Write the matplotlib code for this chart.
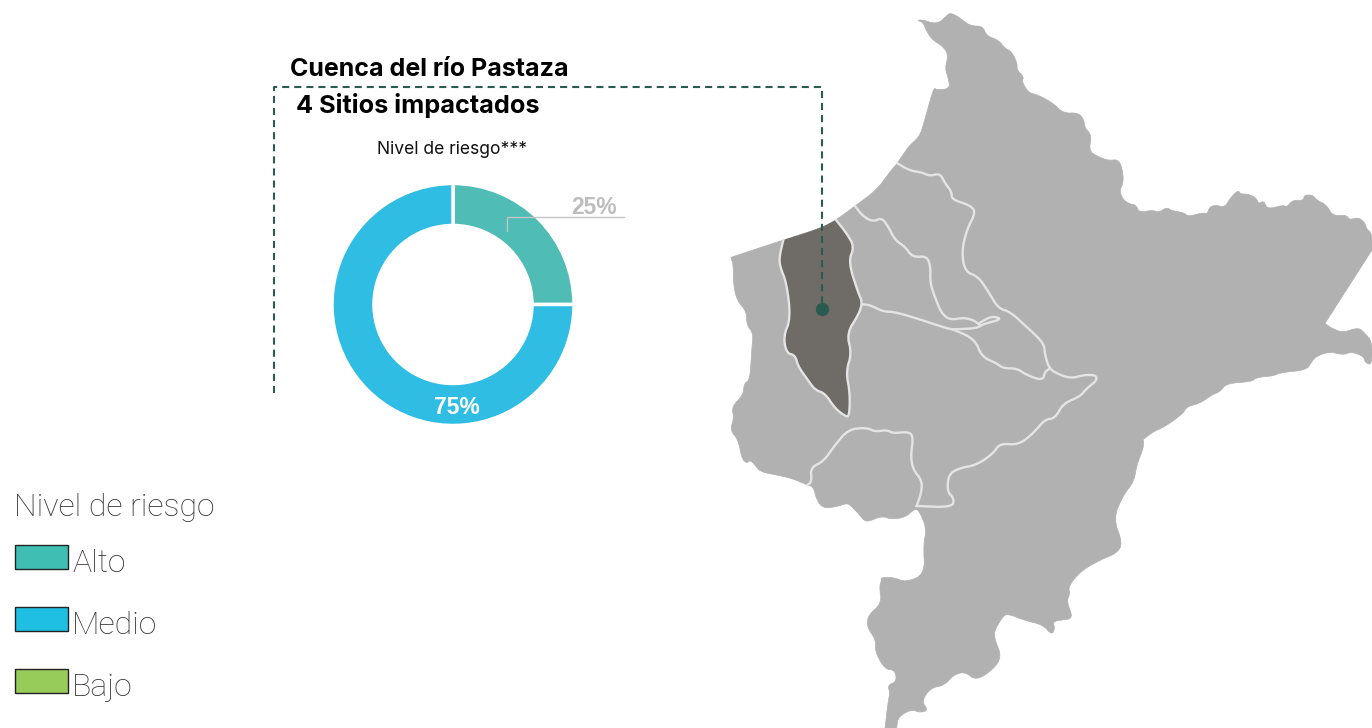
import matplotlib
matplotlib.use("Agg")
import matplotlib.pyplot as plt
from matplotlib.patches import Polygon, Rectangle
import numpy as np

# --- data -------------------------------------------------------------
risk_labels = ["Alto", "Medio"]
risk_values = [25, 75]
risk_colors = ["#4FBCB5", "#30BDE3"]
legend_labels = ["Alto", "Medio", "Bajo"]
legend_colors = ["#3FBFB3", "#1FBFE3", "#97CB5A"]
title_basin = "Cuenca del río Pastaza"
title_sites = "4 Sitios impactados"
title_risk = "Nivel de riesgo***"
legend_title = "Nivel de riesgo"

# --- map outlines, each measured on a 3x crop of the picture -----------
coast_north = [(0,515),(22,490),(40,462),(60,435),(88,410),(100,375),(115,320),(132,262),(140,270),(180,266),(175,235),
 (165,205),(175,165),(160,140),(125,118),(108,90),(100,68),(80,60),(100,60),(130,70),(150,66),(165,52),(180,38),
 (205,50),(240,78),(278,78),(290,108),(325,120),(345,145),(365,155),(382,190),(380,208),(402,232),(395,243),
 (415,278),(445,285),(490,310),(520,340),(565,338),(582,360),(585,385),(605,405),(597,452),(620,468),(655,482),
 (685,478),(698,510),(700,550),(688,572),(700,600),(720,612)]
coast_east = [(78,105),(88,128),(128,120),(145,128),(170,112),(185,122),(222,128),(235,140),(278,128),(292,132),
 (298,112),(315,105),(345,112),(360,85),(385,60),(390,72),(415,72),(440,85),(445,102),(462,92),(472,118),(520,105),
 (530,112),(548,90),(580,92),(583,75),(608,75),(620,90),(650,105),(668,138),(710,135),(718,150),(745,142),(765,158),
 (770,178),(786,190),(786,240),(786,240),(645,460),(645,460),(665,475),(700,488),(745,472),(765,490),(786,515),(786,585),(765,578),
 (762,560),(725,545),(700,555),(660,545),(620,558),(605,575),(590,600),(510,608),(490,618),(440,622),(425,635),
 (350,640),(330,665),(305,675),(270,700),(230,710),(220,730),(165,770),(130,785),(100,808)]
coast_south = [(879,27),(882,50),(860,105),(852,155),(820,195),(790,265),(818,340),(800,370),(750,390),(690,425),
 (655,470),(660,490),(650,515),(670,565),(635,570),(608,575),(615,595),(605,615),(580,585),(520,570),(470,550),
 (455,565),(432,605),(435,630),(455,680),(430,718),(378,752),(345,725),(310,735),(285,765),(240,775),(215,815),
 (235,840),(210,848),(185,838),(145,860),(140,892),(140,900),(105,900),(105,894),(115,810),(120,790),(113,765),(140,755),(135,720),
 (105,718),(75,665),(78,630),(50,590),(55,555),(95,520),(88,470),(95,450),(92,443),(130,442),(168,457),(225,432),
 (220,345),(230,295),(205,237),(190,240),(165,262),(125,268),(95,258),(55,275),(40,270),(25,250),(0,225)]
coast_west = [(380,1000),(350,1010),(310,1015),(290,990),(280,950),(262,945),(215,925),(170,915),(120,905),(105,885),
 (90,870),(80,880),(65,865),(55,810),(30,780),(42,745),(35,710),(70,675),(72,640),(90,630),(95,540),(100,490),
 (80,465),(80,425),(50,390),(40,340),(40,285),(33,262),(33,262),(190,210),(300,175),(348,150),(405,108),(470,60)]
basin_fill = [(190,210),(300,175),(348,150),(348,150),(380,190),(403,230),(385,275),(415,370),(427,395),(418,430),(380,490),
 (395,550),(378,605),(390,670),(388,740),(388,740),(375,738),(345,715),(315,670),(285,660),(260,625),(235,590),
 (225,555),(200,550),(190,500),(212,445),(200,340),(180,290),(178,260),(190,210),(190,210)]
river_a = [(405,108),(430,140),(460,155),(485,143),(505,170),(525,210),(555,230),(578,262),(620,258),(632,290),
 (630,340),(650,395),(665,430),(690,450),(730,443),(760,450),(780,465)]
river_b = [(532,-20),(570,2),(605,7),(630,18),(660,10),(675,40),(695,65),(695,88),(748,105),(768,125),(740,180),
 (725,245),(735,305),(775,320),(805,365),(835,415),(870,425),(925,475),(972,520),(975,555),(988,597),(1020,615),
 (1055,625),(1090,615),(1128,615),(1130,632),(1100,655),(1080,680),(1030,700),(1005,745),(975,748),(940,790),
 (895,825),(840,820),(820,850),(770,885),(715,895),(685,915),(682,965),(702,985),(697,1012),(590,1008)]
river_c = [(427,403),(450,405),(490,425),(520,425),(590,445),(680,475),(700,478),(765,508),(785,560),(830,580),
 (850,595),(890,595),(920,615),(968,632),(975,605),(988,597)]
river_d = [(700,478),(770,475),(790,462),(848,447),(815,438),(780,458)]
river_e = [(262,945),(275,935),(272,892),(310,875),(345,825),(385,778),(440,773),(465,785),(500,780),(520,790),
 (565,785),(580,800),(572,860),(580,900),(605,930),(605,965),(590,1008)]
# the white edge of the basin leaves the straight coast unlined
basin_edge = [(348,150),(380,190),(403,230),(385,275),(415,370),(427,395),(418,430),(380,490),
 (395,550),(378,605),(390,670),(388,740),(375,738),(345,715),(315,670),(285,660),(260,625),(235,590),
 (225,555),(200,550),(190,500),(212,445),(200,340),(180,290),(178,260),(190,210)]

W, H = 1372, 728
def crop(pts, x0=720, y0=170):
    a = np.array(pts, float)
    return a / 3 + [x0, y0]

def rounded(p, closed=False, n=2):
    """Corner-cut the traced outline so that it reads as a soft curve."""
    for _ in range(n):
        q = np.roll(p, -1, axis=0) if closed else p[1:]
        s = p if closed else p[:-1]
        mid = np.empty((2 * len(s), 2))
        mid[0::2] = 0.75 * s + 0.25 * q
        mid[1::2] = 0.25 * s + 0.75 * q
        p = mid if closed else np.vstack([p[0], mid, p[-1]])
    return p

country = rounded(np.vstack([crop(coast_north, 890, 0), crop(coast_east, 1110, 170),
                             crop(coast_south, 850, 430), crop(coast_west)]), closed=True)

fig = plt.figure(figsize=(W/100, H/100), dpi=100, facecolor="white")
ax = fig.add_axes([0, 0, 1, 1])
ax.set_xlim(0, W); ax.set_ylim(H, 0); ax.axis("off")

LINE = "#E4E4E4"; GREEN = "#2A5A50"
ax.add_patch(Polygon(country, closed=True, fc="#B1B1B1", ec="#B1B1B1", lw=0.5, joinstyle="round", zorder=1))
for r in (river_a, river_b, river_c, river_d, river_e):
    p = rounded(crop(r))
    ax.plot(p[:,0], p[:,1], color=LINE, lw=1.7, zorder=2, solid_joinstyle="round")
ax.add_patch(Polygon(rounded(crop(basin_fill), closed=True), closed=True, fc="#6F6B67", ec="none", zorder=3))
p = rounded(crop(basin_edge))
ax.plot(p[:,0], p[:,1], color=LINE, lw=1.7, zorder=3.1, solid_joinstyle="round")

ax.plot([274, 274, 822, 822], [393, 87, 87, 305], color=GREEN, lw=1.5,
        dashes=(3.4, 2.4), zorder=4)
ax.plot([822], [308.5], "o", ms=9.6, color=GREEN, mec="none", zorder=5)

ax.text(290, 69, title_basin, fontsize=18, fontweight="bold", family="Inter", va="center", color="black")
ax.text(296, 105, title_sites, fontsize=18.2, fontweight="bold", family="Inter", va="center", color="black")
ax.text(452, 150, title_risk, fontsize=12.6, family="Inter", va="center", ha="center", color="#111111")

# legend
LIGHT = dict(family="Roboto", fontweight="light", va="center", color="#333333", fontsize=23)
ax.text(14, 508, legend_title, **LIGHT)
for lab, col, y in zip(legend_labels, legend_colors, (557, 619, 681)):
    ax.add_patch(Rectangle((15, y-12), 53, 24, fc=col, ec="#222222", lw=1))
    ax.text(72, y+6, lab, **LIGHT)

# doughnut
pax = fig.add_axes([332/W, 1-425.5/H, 242/W, 242/H])
pax.pie(risk_values, colors=risk_colors, startangle=90, counterclock=False, radius=1,
        wedgeprops=dict(width=42/121, edgecolor="white", linewidth=2.5))
pax.set_xlim(-1, 1); pax.set_ylim(-1, 1)

ax.set_zorder(pax.get_zorder() + 1); ax.patch.set_alpha(0)
ax.plot([507, 507, 624], [231, 217, 217], color="#C4C4C4", lw=1, zorder=6)
ax.text(594.5, 207.5, f"{risk_values[0]}%", fontsize=16.5, fontweight="bold", family="Liberation Sans",
        ha="center", va="center", color="#BDBDBD")
ax.text(457, 407.5, f"{risk_values[1]}%", fontsize=16.5, fontweight="bold", family="Liberation Sans",
        ha="center", va="center", color="white")

fig.savefig("out.png", dpi=100)
